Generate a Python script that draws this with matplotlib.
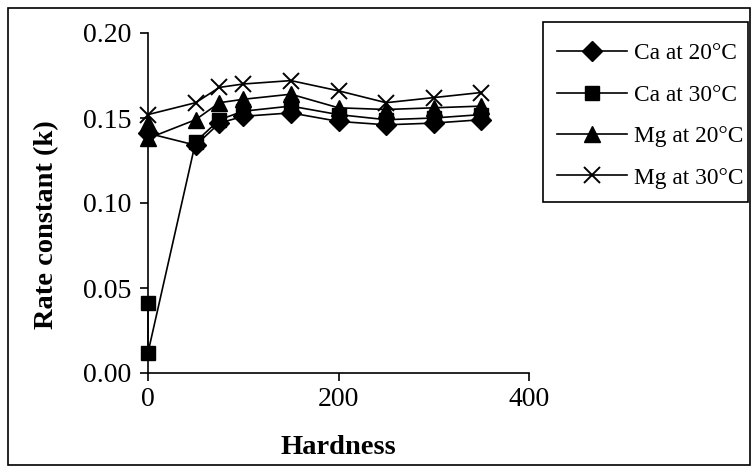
import matplotlib
matplotlib.use("Agg")
import matplotlib.pyplot as plt
from matplotlib.patches import Rectangle
from matplotlib.ticker import FormatStrFormatter

plt.rcParams['font.family'] = ['Liberation Serif', 'DejaVu Serif']

# Data
hardness = [0, 50, 75, 100, 150, 200, 250, 300, 350]
hardness_ca30 = [0, 0, 50, 75, 100, 150, 200, 250, 300, 350]
hardness_mg20 = [0, 0, 50, 75, 100, 150, 200, 250, 300, 350]
ca_20 = [0.141, 0.134, 0.147, 0.151, 0.153, 0.148, 0.146, 0.147, 0.149]
ca_30 = [0.041, 0.012, 0.136, 0.149, 0.154, 0.157, 0.152, 0.149, 0.150, 0.152]
mg_20 = [0.147, 0.138, 0.149, 0.159, 0.161, 0.164, 0.156, 0.155, 0.156, 0.157]
mg_30 = [0.152, 0.159, 0.168, 0.170, 0.172, 0.166, 0.159, 0.162, 0.165]
labels = ["Ca at 20°C", "Ca at 30°C", "Mg at 20°C", "Mg at 30°C"]
x_ticks = [0, 200, 400]
y_ticks = [0.00, 0.05, 0.10, 0.15, 0.20]

W, H = 756, 471
fig = plt.figure(figsize=(W / 100, H / 100), dpi=100)
ax = fig.add_axes([148 / W, 1 - 373 / H, (529 - 148) / W, (373 - 33) / H])

lw = 1.2
common = dict(color='black', lw=lw, markerfacecolor='black', markeredgecolor='black',
              clip_on=False, zorder=3)
l1, = ax.plot(hardness, ca_20, marker='D', markersize=10, **common)
l2, = ax.plot(hardness_ca30, ca_30, marker='s', markersize=10, **common)
l3, = ax.plot(hardness_mg20, mg_20, marker='^', markersize=12, **common)
l4, = ax.plot(hardness, mg_30, marker='x', markersize=12, markeredgewidth=1.4,
              color='black', lw=lw, clip_on=False, zorder=3)

ax.set_xlim(0, 400)
ax.set_ylim(0, 0.20)
ax.set_xticks(x_ticks)
ax.set_yticks(y_ticks)
ax.yaxis.set_major_formatter(FormatStrFormatter('%.2f'))
for s in ['top', 'right']:
    ax.spines[s].set_visible(False)
for s in ['left', 'bottom']:
    ax.spines[s].set_linewidth(1.2)
ax.tick_params(direction='out', length=6, width=1.2, labelsize=20)
ax.tick_params(axis='y', pad=6)
ax.tick_params(axis='x', pad=4)
ax.set_xlabel('Hardness', fontsize=20.5, fontweight='bold')
ax.set_ylabel('Rate constant (k)', fontsize=20.5, fontweight='bold')
ax.xaxis.set_label_coords(0.5, (373 - 435) / 340)
ax.yaxis.set_label_coords((59 - 148) / 381, (373 - 225) / 340)

leg = fig.legend([l1, l2, l3, l4], labels, loc='upper left',
                 bbox_to_anchor=(557 / W, 1 - 43 / H), bbox_transform=fig.transFigure,
                 fontsize=16.8, frameon=False,
                 handlelength=3.0, labelspacing=0.86, borderpad=0, handletextpad=0.3,
                 borderaxespad=0)

fig.patches.append(Rectangle((543 / W, 1 - 202 / H), (748 - 543) / W, (202 - 22) / H,
                             transform=fig.transFigure, fill=False, edgecolor='black',
                             linewidth=1.2))
fig.patches.append(Rectangle((8 / W, 1 - 465 / H), (750 - 8) / W, (465 - 8) / H,
                             transform=fig.transFigure, fill=False, edgecolor='black',
                             linewidth=1.2))

fig.savefig('out.png', dpi=100)
